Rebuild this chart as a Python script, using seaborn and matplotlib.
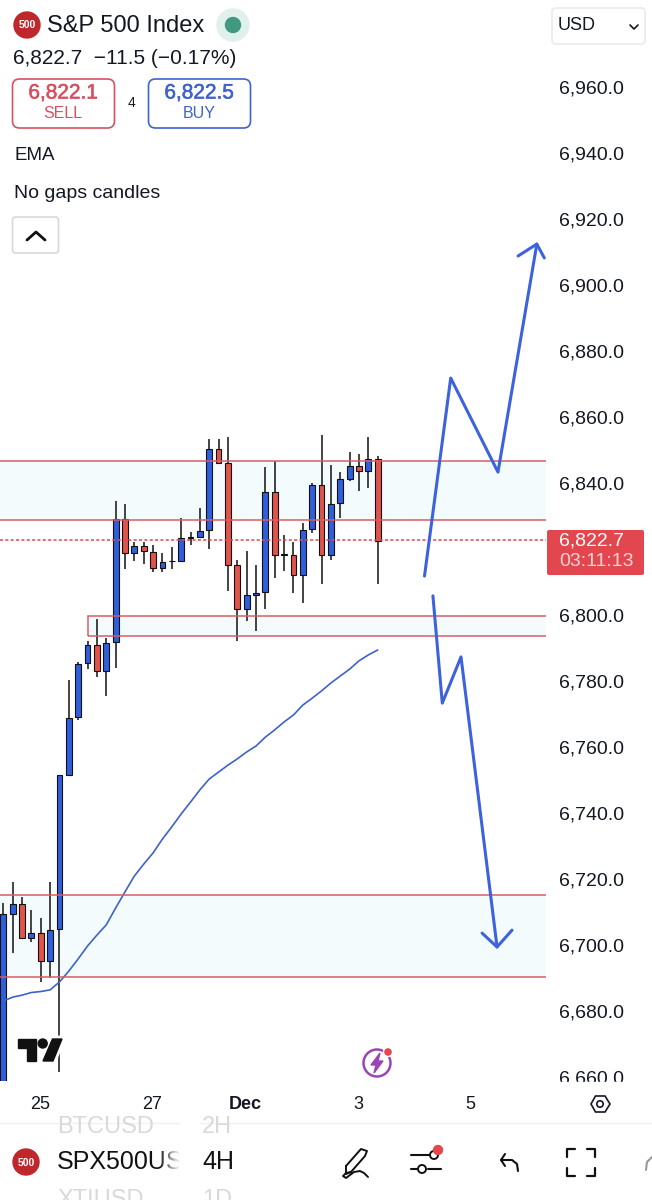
import matplotlib
matplotlib.use('Agg')
import numpy as np
import pandas as pd
import seaborn as sns
import matplotlib.pyplot as plt
import matplotlib.patheffects as pe
from matplotlib.patches import Rectangle, FancyBboxPatch, Circle, Polygon

# candles, 4H bars
opens = [6650, 6709.5, 6712.4, 6702.2, 6703.7, 6695.1, 6704.8, 6751.5, 6769, 6785.4,
         6791, 6783.1, 6791.9, 6829.1, 6818.9, 6821, 6819.1, 6814.2, 6816.4, 6816.4,
         6823.4, 6823.6, 6825.8, 6850.2, 6846, 6815.1, 6801.7, 6806.1, 6807.1, 6837.3,
         6818.3, 6818.2, 6812, 6826, 6839.5, 6818.1, 6833.8, 6841.2, 6845.2, 6843.7, 6847.4]
highs = [6712.7, 6719.2, 6714.5, 6710.6, 6708.1, 6719.2, 6751.5, 6780.3, 6785.8, 6792.2,
         6798.7, 6792.9, 6834.5, 6833.5, 6822.2, 6822, 6821.1, 6818.7, 6820.5, 6829.5,
         6825.2, 6832.3, 6853.3, 6853.3, 6854, 6816.7, 6819.5, 6815.2, 6844.8, 6846.8,
         6824.2, 6822.2, 6828, 6839.9, 6854.6, 6845.4, 6843.4, 6849.3, 6848.7, 6854, 6848.2]
lows = [6640, 6697.7, 6701.8, 6701, 6688.7, 6690.1, 6661.6, 6751.2, 6768.2, 6783.6,
        6781.3, 6775.5, 6784, 6813.8, 6816.4, 6815.5, 6813.1, 6812.9, 6813.8, 6816.4,
        6821.2, 6823.6, 6819.9, 6845.7, 6807.3, 6792.1, 6798.3, 6795.2, 6801.8, 6811.1,
        6813.4, 6806.6, 6803.6, 6824.8, 6809.3, 6816.7, 6829.3, 6840.7, 6837.7, 6838.4, 6809.4]
closes = [6709.4, 6712.4, 6702.2, 6703.7, 6695.1, 6704.5, 6751.5, 6768.8, 6785.2, 6791,
          6783.1, 6791.6, 6829.1, 6818.9, 6821, 6819.4, 6814.2, 6816.2, 6816.5, 6823.4,
          6823.5, 6825.5, 6850.2, 6846, 6815.2, 6801.7, 6806.1, 6806.7, 6837.3, 6818.3,
          6818.4, 6812, 6825.7, 6839.5, 6818.1, 6833.6, 6841.2, 6845.2, 6843.7, 6847.4, 6822.3]
ema = [6683, 6684.2, 6684.8, 6685.6, 6685.9, 6686.4, 6688.8, 6692.1, 6695.8, 6699.7,
       6703, 6706.1, 6711.2, 6716.1, 6720.9, 6724.5, 6727.9, 6732.1, 6735.8, 6739.7,
       6743.3, 6747, 6750.3, 6752.4, 6754.5, 6756.4, 6758.5, 6760.3, 6763, 6765.2,
       6767.6, 6769.7, 6772.7, 6774.8, 6777, 6779.4, 6781.5, 6783.6, 6786.1, 6787.9, 6789.4]

price_ticks = list(range(6660, 6961, 20))
time_ticks = [3.9, 15.9, 25.9, 37.9, 49.9]
time_labels = ['25', '27', 'Dec', '3', '5']

# supply/demand zones: top, bottom, first bar
zone_tops = [6846.7, 6799.7, 6715.2]
zone_bottoms = [6828.8, 6793.6, 6690.3]
zone_starts = [-1, 9.0, -1]
last_price = 6822.7

# hand drawn arrows (bar number, price)
up_x = [45.0, 47.8, 52.85, 57.0]
up_y = [6811.8, 6871.8, 6843.3, 6912.4]
up_head_x = [55.0, 57.0, 57.8]
up_head_y = [6908.8, 6912.4, 6908.2]
down_x = [45.9, 46.9, 48.9, 52.75]
down_y = [6805.8, 6773.3, 6787.3, 6699.4]
down_head_x = [51.15, 52.75, 54.35]
down_head_y = [6703.6, 6699.4, 6704.5]

BLUE = '#2f5fdc'
RED = '#e0544c'
LINE_RED = '#d85c66'
DRAW_BLUE = '#3d63dc'
INK = '#131722'

sns.set_theme(style='white')
plt.rcParams['font.family'] = ['Liberation Sans', 'DejaVu Sans']

W, H = 652, 1200
fig = plt.figure(figsize=(W / 100, H / 100), dpi=100)
ax = fig.add_axes([0, (H - 1081) / H, 546 / W, 1081 / H])

df = pd.DataFrame({'bar': range(len(opens)), 'open': opens, 'high': highs,
                   'low': lows, 'close': closes, 'ema': ema})
df['up'] = df['close'] >= df['open']

# zones
for top, bottom, start in zip(zone_tops, zone_bottoms, zone_starts):
    ax.add_patch(Rectangle((start, bottom), 80, top - bottom, facecolor='#f4fbfd', edgecolor='none', zorder=1))
    ax.add_patch(Rectangle((start, bottom), 80, top - bottom, facecolor='none', edgecolor=LINE_RED, lw=1.1, zorder=4))

# candles
ax.vlines(df['bar'], df['low'], df['high'], color='#111111', lw=1.1, zorder=2)
ax.bar(df['bar'], df['close'] - df['open'], bottom=df['open'], width=0.62,
       color=[BLUE if u else RED for u in df['up']], edgecolor='#111111', linewidth=0.8, zorder=3)

sns.lineplot(data=df, x='bar', y='ema', ax=ax, color='#3d63c8', lw=1.2, estimator=None, sort=False, zorder=3)
ax.axhline(last_price, color='#e2474f', lw=1.1, dashes=(2, 1.5), zorder=4)

for xs, ys in [(up_x, up_y), (up_head_x, up_head_y), (down_x, down_y), (down_head_x, down_head_y)]:
    sns.lineplot(x=xs, y=ys, ax=ax, color=DRAW_BLUE, lw=2.2, estimator=None, sort=False, zorder=6)

ax.set_xlim(-0.353, 57.98)
ax.set_ylim(6800 - 466 * 0.30303, 6800 + 615 * 0.30303)
ax.set_xlabel('')
ax.set_ylabel('')
sns.despine(ax=ax, left=True, right=True, top=True, bottom=True)
ax.yaxis.tick_right()
ax.set_yticks(price_ticks)
# the 6,820 label sits behind the last price tag
ax.set_yticklabels(['' if p == 6820 else '{:,.1f}'.format(p) for p in price_ticks], fontsize=14, color=INK)
ax.set_xticks(time_ticks)
ax.set_xticklabels(time_labels, fontsize=13, color=INK)
ax.get_xticklabels()[2].set_fontweight('bold')
ax.tick_params(axis='y', length=0, pad=9.4)
ax.tick_params(axis='x', length=0, pad=11)

# everything that is app chrome goes on one overlay in pixel coords
ov = fig.add_axes([0, 0, 1, 1], zorder=5)
ov.set_xlim(0, W)
ov.set_ylim(H, 0)
ov.axis('off')
ov.patch.set_alpha(0)

ov.add_patch(Rectangle((546, 1082), 106, 12, color='white', zorder=1))


def box(x0, y0, x1, y1, color, r=7, lw=1.2):
    ov.add_patch(FancyBboxPatch((x0 + r, y0 + r), x1 - x0 - 2 * r, y1 - y0 - 2 * r,
                                boxstyle='round,pad=%d' % r, fc='white', ec=color, lw=lw))


def txt(x, y, s, size=14, color=INK, ha='left', **kw):
    return ov.text(x, y, s, fontsize=size, color=color, ha=ha, va='center', **kw)


# header
ov.add_patch(Circle((27, 25), 13, color='#c0272d'))
txt(27, 25.5, '500', 7.5, 'white', ha='center', fontweight='bold')
txt(47, 26, 'S&P 500 Index', 17)
ov.add_patch(Circle((233, 25), 16, color='#e1f0ec'))
ov.add_patch(Circle((233, 25), 7.5, color='#3f9a80'))
txt(13, 59, '6,822.7  \u221211.5 (\u22120.17%)', 15)
box(12.5, 79, 114.5, 128, '#d9505e')
txt(63, 93, '6,822.1', 15, '#d9505e', ha='center',
    path_effects=[pe.withStroke(linewidth=0.4, foreground='#d9505e')])
txt(63, 114, 'SELL', 11.5, '#d9505e', ha='center')
txt(131, 103, '4', 10, ha='center')
box(148.5, 79, 250.5, 128, '#3f62cf')
txt(199, 93, '6,822.5', 15, '#3f62cf', ha='center',
    path_effects=[pe.withStroke(linewidth=0.4, foreground='#3f62cf')])
txt(199, 114, 'BUY', 11.5, '#3f62cf', ha='center')
txt(14, 155, 'EMA', 13.5)
txt(14, 193, 'No gaps candles', 14)
box(12.5, 217, 58.5, 253, '#d8d8d8', r=3)
ov.plot([27, 36, 45], [240, 232, 240], color='#111111', lw=2)

# currency box + price tag
box(552, 8, 645, 44, '#e9eaee', r=4)
txt(558, 25, 'USD', 13)
ov.plot([630, 634, 638], [25, 29, 25], color=INK, lw=1.2)
ov.add_patch(FancyBboxPatch((549, 532), 93, 41, boxstyle='round,pad=2', fc='#e2474f', ec='none'))
txt(559, 541, '6,822.7', 14, 'white')
txt(559, 562, '03:11:13', 14, '#fad2d3')

# tradingview mark
logo = [[(17.5, 1039), (35.5, 1039), (35.5, 1061), (26.5, 1061), (26.5, 1048), (17.5, 1048)],
        [(43, 1061), (52.5, 1039), (62, 1039), (53, 1061)]]
for pts in logo:
    ov.add_patch(Polygon(pts, color='#111111', zorder=3,
                         path_effects=[pe.withStroke(linewidth=5, foreground='white')]))
ov.add_patch(Circle((42.7, 1043.5), 4.5, color='#111111', zorder=4))

# bolt button
ov.add_patch(Circle((377, 1063), 13.5, fc='white', ec='#9b45b5', lw=1.8))
ov.add_patch(Polygon([(380, 1053), (371, 1065), (376, 1065), (374, 1073), (383, 1061), (378, 1061)], color='#9b45b5'))
ov.add_patch(Circle((388, 1052), 4.5, color='#e2474f', ec='white', lw=1))

# settings hexagon on time scale
ov.add_patch(Polygon([(591, 1104), (595.5, 1096), (605, 1096), (610, 1104), (605, 1112), (595.5, 1112)],
                     fc='none', ec=INK, lw=1.2))
ov.add_patch(Circle((600, 1104), 3.2, fc='none', ec=INK, lw=1.2))

# bottom bar
ov.plot([0, W], [1122.5, 1122.5], color='#f0f1f3', lw=1)
clip_top = Rectangle((0, 1123), W, 77, transform=ov.transData)
for x, y, s, c in [(57, 1127, 'BTCUSD', '#d9d9d9'), (202, 1127, '2H', '#d9d9d9'),
                   (57, 1200, 'XTIUSD', '#d9d9d9'), (202, 1200, '1D', '#d9d9d9')]:
    t = txt(x, y, s, 17, c)
    t.set_clip_path(clip_top)
ov.add_patch(Circle((26, 1162), 13, color='#c0272d'))
txt(26, 1162.5, '500', 7.5, 'white', ha='center', fontweight='bold')
txt(57, 1162, 'SPX500US', 18, '#111111', zorder=2)
for i in range(12):
    ov.add_patch(Rectangle((160 + i * 1.7, 1145), 1.8, 36, color='white', alpha=(i + 1) / 12, lw=0, zorder=3))
ov.add_patch(Rectangle((180, 1120), 20, 80, color='white', lw=0, zorder=3))
txt(202, 1162, '4H', 18, '#111111', zorder=4)

# draw tool
ov.plot([346, 361, 367, 365, 351, 346, 346], [1166, 1149, 1151, 1156, 1172, 1174, 1166], color='#111111', lw=1.4)
ov.plot([351, 346, 343, 346, 354, 360, 364, 368], [1172, 1173, 1176, 1178, 1172, 1171, 1173, 1177], color='#111111', lw=1.4)
# sliders
ov.plot([411, 430], [1155, 1155], color='#111111', lw=1.5)
ov.plot([428, 441], [1169, 1169], color='#111111', lw=1.5)
ov.plot([411, 417], [1169, 1169], color='#111111', lw=1.5)
ov.add_patch(Circle((422, 1169), 4, fc='white', ec='#111111', lw=1.4))
ov.add_patch(Circle((434, 1155), 4, fc='white', ec='#111111', lw=1.4))
ov.add_patch(Circle((438, 1150), 4.5, color='#e2474f'))
# undo
ov.plot([505, 501, 505], [1154, 1160, 1166], color='#111111', lw=1.5)
ov.plot([501, 512, 517, 518], [1160, 1160, 1164, 1171], color='#111111', lw=1.5)
# fullscreen corners
for cx, cy, dx, dy in [(567, 1149, 1, 1), (595, 1149, -1, 1), (567, 1176, 1, -1), (595, 1176, -1, -1)]:
    ov.plot([cx, cx, cx + 8 * dx], [cy + 8 * dy, cy, cy], color='#111111', lw=1.6)
# next icon, cut by the edge
ov.plot([646, 647, 652], [1170, 1162, 1157], color='#999999', lw=1.5)

fig.savefig('out.png', dpi=100)
